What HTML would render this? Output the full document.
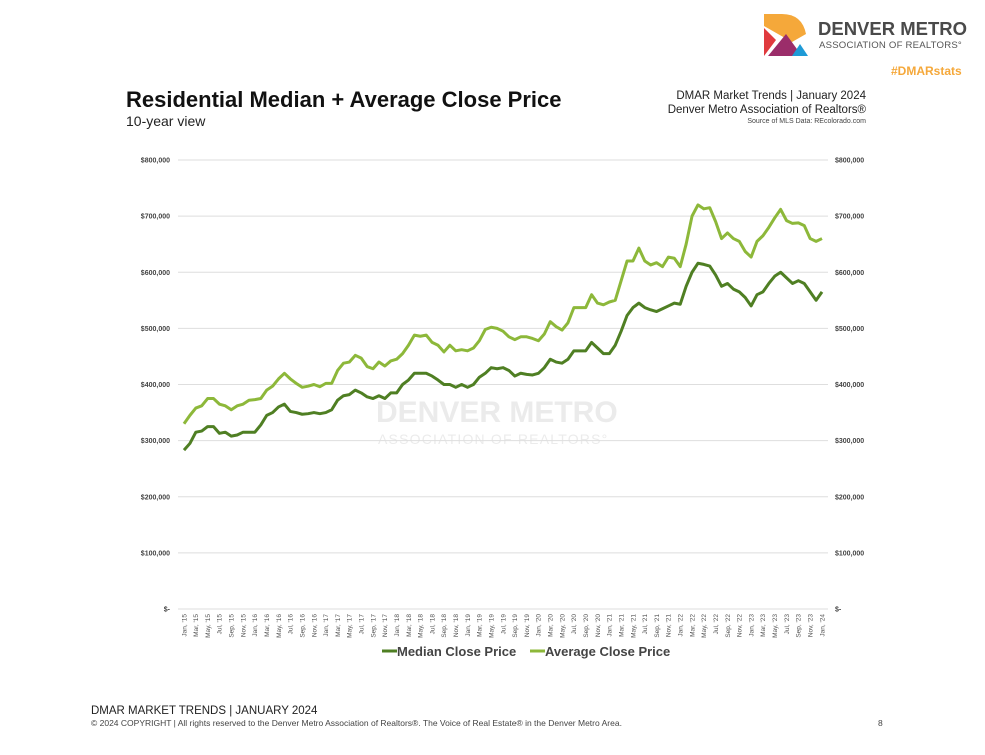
<!DOCTYPE html>
<html><head><meta charset="utf-8">
<style>
body{margin:0;width:985px;height:755px;background:#fff;font-family:"Liberation Sans",sans-serif;position:relative;overflow:hidden}
.a{position:absolute;white-space:nowrap}
</style></head><body>
<svg class="a" style="left:762px;top:14px" width="48" height="42">
<path d="M2 0H20Q40 0 44 20L30 28L2 12Z" fill="#f5a83a"/>
<path d="M2 14L14 26L2 42Z" fill="#e03a3e"/>
<path d="M6 42L24 20L40 42Z" fill="#9b2d6a"/>
<path d="M30 42L38 30L46 42Z" fill="#1e9ad6"/>
</svg>
<div class="a" style="left:818px;top:18px;font-size:18.5px;font-weight:bold;color:#4a4a4a">DENVER METRO</div>
<div class="a" style="left:819px;top:40px;font-size:9.6px;color:#555;letter-spacing:0.2px">ASSOCIATION OF REALTORS°</div>
<div class="a" style="left:891px;top:64px;font-size:12px;font-weight:bold;color:#f5a83a">#DMARstats</div>
<div class="a" style="left:126px;top:87px;font-size:22px;font-weight:bold;color:#111">Residential Median + Average Close Price</div>
<div class="a" style="left:126px;top:113px;font-size:14px;color:#222">10-year view</div>
<div class="a" style="right:119px;top:90px;font-size:11.5px;color:#222;text-align:right">DMAR Market Trends | January 2024</div>
<div class="a" style="right:119px;top:104px;font-size:11.5px;color:#222">Denver Metro Association of Realtors®</div>
<div class="a" style="right:119px;top:118px;font-size:7px;color:#444">Source of MLS Data: REcolorado.com</div>
<div class="a" style="left:376px;top:396px;font-size:30px;font-weight:bold;color:#ebebeb">DENVER METRO</div>
<div class="a" style="left:378px;top:431px;font-size:14px;color:#ebebeb;letter-spacing:1.2px">ASSOCIATION OF REALTORS°</div>
<svg id="chart" class="a" style="left:0;top:0" width="985" height="755"></svg>
<div class="a" style="left:91px;top:705px;font-size:11.5px;color:#222">DMAR MARKET TRENDS | JANUARY 2024</div>
<div class="a" style="left:91px;top:718px;font-size:8.5px;color:#444">© 2024 COPYRIGHT | All rights reserved to the Denver Metro Association of Realtors®. The Voice of Real Estate® in the Denver Metro Area.</div>
<div class="a" style="left:878px;top:718px;font-size:8.5px;color:#444">8</div>
<script>
const median=[283,295,315,317,325,325,313,315,308,310,315,315,
315,328,345,350,360,365,352,350,347,348,350,348,
350,355,372,380,382,390,385,378,375,380,375,385,
385,400,408,420,420,420,415,408,400,400,395,400,
395,400,413,420,430,428,430,425,415,420,418,417,
420,430,445,440,438,445,460,460,460,475,465,455,
455,470,495,523,537,545,537,533,530,535,540,545,
543,575,600,616,614,611,595,575,580,570,565,555,
540,560,565,580,593,600,590,580,585,580,565,550,565];
const average=[330,345,358,362,375,375,365,362,355,362,365,372,
373,375,390,397,410,420,410,402,395,397,400,396,
402,402,425,438,440,452,447,432,428,440,433,442,
445,455,470,488,486,488,475,470,458,470,460,462,
460,465,478,498,502,500,495,485,480,485,485,482,
478,490,512,503,497,510,537,537,537,560,545,542,
547,550,585,620,620,643,620,613,617,610,627,625,
610,650,700,720,713,715,690,660,670,660,655,637,
627,655,665,680,697,712,692,687,688,683,660,655,660];
const yTicks=[0,100,200,300,400,500,600,700,800];
const yTickLabels=["$-","$100,000","$200,000","$300,000","$400,000","$500,000","$600,000","$700,000","$800,000"];
const months=["Jan","Mar","May","Jul","Sep","Nov"];
const NS="http://www.w3.org/2000/svg";
const svg=document.getElementById('chart');
const x0=184,x1=822,y0=609,y800=160;
const xs=i=>x0+(x1-x0)*i/(median.length-1);
const ys=v=>y0-(y0-y800)*v/800;
function mk(t,a){const e=document.createElementNS(NS,t);for(const k in a)e.setAttribute(k,a[k]);svg.appendChild(e);return e;}
yTicks.forEach((v,i)=>{
 const g=mk('line',{x1:178,x2:828,y1:ys(v),y2:ys(v),stroke:'#dedede','stroke-width':1});
 
 
 [[170,'end'],[835,'start']].forEach(([x,an])=>{
  const t=mk('text',{x:x,y:ys(v)+2.5,'font-size':7,'text-anchor':an,fill:'#444','font-weight':'bold','font-family':'Liberation Sans'});
  t.textContent=yTickLabels[i];
  
  
 });
});
for(let i=0;i<median.length;i+=2){
 const m=months[(i%12)/2],yr=15+Math.floor(i/12);
 const t=mk('text',{x:0,y:0,'font-size':6.5,'text-anchor':'end',fill:'#555','font-family':'Liberation Sans',transform:`translate(${xs(i)+2.3},614) rotate(-90)`});
 t.textContent=m+", '"+yr;
 
 
}
function line(d,c,n){
 const p=mk('polyline',{points:d.map((v,i)=>xs(i)+','+ys(v)).join(' '),fill:'none',stroke:c,'stroke-width':3,'stroke-linejoin':'round'});
 
 
}
line(average,'#8db83a','average-close-price-line');
line(median,'#4f7f23','median-close-price-line');
[[382,'#4f7f23','Median Close Price','legend-median'],[530,'#8db83a','Average Close Price','legend-average']].forEach(([x,c,l,n])=>{
 const r=mk('line',{x1:x,x2:x+15,y1:651,y2:651,stroke:c,'stroke-width':3});
 
 
 const t=mk('text',{x:x+15,y:656,'font-size':13,'font-weight':'bold',fill:'#444','font-family':'Liberation Sans'});
 t.textContent=l;
 
 
});
</script>
</body></html>
